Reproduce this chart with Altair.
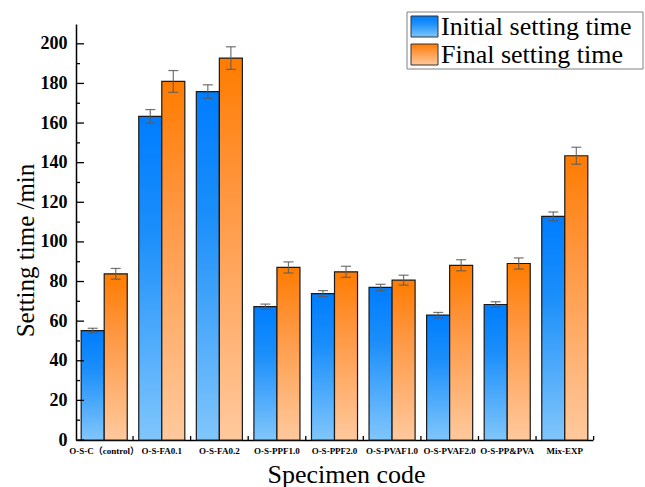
import altair as alt
import pandas as pd

# Specimen groups and measured setting times (min)
groups = ["O-S-C（control）", "O-S-FA0.1", "O-S-FA0.2", "O-S-PPF1.0", "O-S-PPF2.0",
          "O-S-PVAF1.0", "O-S-PVAF2.0", "O-S-PP&PVA", "Mix-EXP"]
initial = [55.2, 163.4, 175.9, 67.3, 73.9, 77.0, 63.0, 68.4, 112.9]
initial_err = [1.2, 3.4, 3.4, 1.3, 1.5, 1.6, 1.4, 1.4, 2.2]
final = [83.9, 181.0, 192.8, 87.1, 84.9, 80.7, 88.2, 89.1, 143.5]
final_err = [2.7, 5.5, 5.7, 2.8, 2.8, 2.5, 2.8, 2.8, 4.3]
series = ["Initial setting time", "Final setting time"]

major_ticks = list(range(0, 201, 20))
minor_ticks = list(range(10, 201, 20))

SERIF = "Liberation Serif, 'Noto Sans CJK SC'"
W, H = 517, 416

rows = []
for g, v, e in zip(groups, initial, initial_err):
    rows.append({"group": g, "series": series[0], "value": v, "lo": v - e, "hi": v + e})
for g, v, e in zip(groups, final, final_err):
    rows.append({"group": g, "series": series[1], "value": v, "lo": v - e, "hi": v + e})
df = pd.DataFrame(rows)


def grad(top, mid, bottom, mid_at):
    return alt.Gradient(
        gradient="linear", x1=0, x2=0, y1=0, y2=1,
        stops=[alt.GradientStop(color=top, offset=0),
               alt.GradientStop(color=mid, offset=mid_at),
               alt.GradientStop(color=bottom, offset=1)])


blue = grad("#007dff", "#1a8efa", "#80c6fc", 0.35)
orange = grad("#ff7c00", "#ff9640", "#ffc99d", 0.35)

y_scale = alt.Scale(domain=[0, 210], nice=False, zero=True)
x_enc = alt.X("group:N", sort=groups,
              scale=alt.Scale(paddingInner=0.2, paddingOuter=0.09),
              axis=alt.Axis(title="Specimen code", labelAngle=0, labelFont=SERIF,
                            labelFontSize=9, labelFontWeight="bold", labelColor="black",
                            labelPadding=6, ticks=False, domainColor="black",
                            domainWidth=1.5, titleFont=SERIF, titleFontSize=26,
                            titleFontWeight="normal", titleColor="black", titlePadding=6,
                            titleX=270, labelOverlap=False))
xo_enc = alt.XOffset("series:N", sort=series, scale=alt.Scale(paddingInner=0, paddingOuter=0))
y_axis = alt.Axis(title="Setting time /min", values=major_ticks, ticks=False,
                  labelFont=SERIF, labelFontSize=18, labelFontWeight="bold",
                  labelColor="black", labelPadding=9, domainColor="black",
                  domainWidth=1.5, titleFont=SERIF, titleFontSize=25,
                  titleFontWeight="normal", titleColor="black", titlePadding=2,
                  titleY=226, grid=False)

base = alt.Chart(df)

bars_init = base.transform_filter(alt.datum.series == series[0]).mark_bar(
    color=blue, stroke="#1a1a1a", strokeWidth=1.2
).encode(x=x_enc, xOffset=xo_enc, y=alt.Y("value:Q", scale=y_scale, axis=y_axis))

bars_final = base.transform_filter(alt.datum.series == series[1]).mark_bar(
    color=orange, stroke="#1a1a1a", strokeWidth=1.2
).encode(x=x_enc, xOffset=xo_enc, y=alt.Y("value:Q", scale=y_scale))

err_line = base.mark_rule(color="#5a5a5a", strokeWidth=1.2, opacity=0.85).encode(
    x=x_enc, xOffset=xo_enc, y=alt.Y("lo:Q", scale=y_scale), y2="hi:Q")
cap_lo = base.mark_tick(color="#5a5a5a", thickness=1.2, size=10, opacity=0.85).encode(
    x=x_enc, xOffset=xo_enc, y=alt.Y("lo:Q", scale=y_scale))
cap_hi = base.mark_tick(color="#5a5a5a", thickness=1.2, size=10, opacity=0.85).encode(
    x=x_enc, xOffset=xo_enc, y=alt.Y("hi:Q", scale=y_scale))

# Inward-pointing y ticks
tick_df = pd.DataFrame({"v": major_ticks + minor_ticks,
                        "kind": ["major"] * len(major_ticks) + ["minor"] * len(minor_ticks)})
major_rule = alt.Chart(tick_df).transform_filter(alt.datum.kind == "major").mark_rule(
    color="black", strokeWidth=1.3).encode(
    y=alt.Y("v:Q", scale=y_scale), x=alt.value(0), x2=alt.value(8))
minor_rule = alt.Chart(tick_df).transform_filter(alt.datum.kind == "minor").mark_rule(
    color="black", strokeWidth=1.3).encode(
    y=alt.Y("v:Q", scale=y_scale), x=alt.value(0), x2=alt.value(4))

# Small upward ticks between specimen groups on the x axis
group_df = pd.DataFrame({"group": groups})
x_ticks = alt.Chart(group_df).mark_rule(color="black", strokeWidth=1.3, xOffset=5.8).encode(
    x=alt.X("group:N", sort=groups, bandPosition=1), y=alt.value(H), y2=alt.value(H - 4))

# Legend box with gradient swatches
LX, LY = 331, -12
one = group_df.head(1)
legend_box = alt.Chart(one).mark_rect(
    fill="white", stroke="#808080", strokeWidth=1).encode(
    x=alt.value(LX), x2=alt.value(LX + 236), y=alt.value(LY), y2=alt.value(LY + 57))
sw1 = alt.Chart(one).mark_rect(
    color=blue, stroke="#333333", strokeWidth=1).encode(
    x=alt.value(LX + 4), x2=alt.value(LX + 31), y=alt.value(LY + 4), y2=alt.value(LY + 25))
sw2 = alt.Chart(one).mark_rect(
    color=orange, stroke="#333333", strokeWidth=1).encode(
    x=alt.value(LX + 4), x2=alt.value(LX + 31), y=alt.value(LY + 32), y2=alt.value(LY + 53))
txt1 = alt.Chart(one).mark_text(
    text=series[0], font=SERIF, fontSize=26, align="left", baseline="middle", color="black"
).encode(x=alt.value(LX + 34), y=alt.value(LY + 15))
txt2 = alt.Chart(one).mark_text(
    text=series[1], font=SERIF, fontSize=26, align="left", baseline="middle", color="black"
).encode(x=alt.value(LX + 34), y=alt.value(LY + 43))

chart = alt.layer(
    bars_init, bars_final, err_line, cap_lo, cap_hi, major_rule, minor_rule, x_ticks,
    legend_box, sw1, sw2, txt1, txt2
).properties(
    width=W, height=H,
    autosize=alt.AutoSizeParams(type="none"),
    padding={"left": 76, "top": 24, "right": 52, "bottom": 47},
    background="white",
).configure_view(stroke=None)

chart.save("out.html", embed_options={"renderer": "svg", "actions": False})
